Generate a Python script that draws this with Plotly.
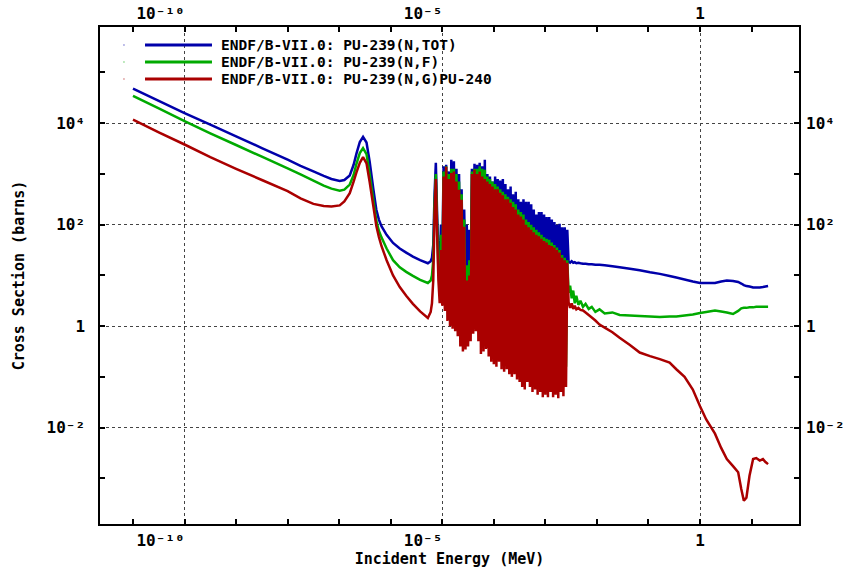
import plotly.graph_objects as go

# ---------------- data (log10 of energy in MeV, log10 of cross section in barns) ----------------
# smooth thermal / 0.3 eV resonance part
log_e_low = [-11.0, -10.5, -10.0, -9.5, -9.0, -8.5, -8.0, -7.75, -7.5, -7.3, -7.15, -6.99,
             -6.9, -6.795, -6.72, -6.665, -6.60, -6.537, -6.47, -6.41, -6.34, -6.28, -6.23,
             -6.18, -6.08, -5.955, -5.825, -5.7, -5.57, -5.43, -5.28]
tot_low = [4.68, 4.44, 4.20, 3.97, 3.74, 3.51, 3.28, 3.16, 3.05, 2.96, 2.90, 2.86,
           2.88, 2.97, 3.18, 3.40, 3.63, 3.73, 3.62, 3.25, 2.72, 2.30, 2.10,
           1.97, 1.80, 1.64, 1.53, 1.45, 1.37, 1.30, 1.24]
fis_low = [4.54, 4.29, 4.04, 3.80, 3.57, 3.34, 3.11, 2.99, 2.87, 2.77, 2.71, 2.67,
           2.69, 2.79, 2.98, 3.20, 3.41, 3.51, 3.39, 3.00, 2.50, 2.08, 1.88,
           1.75, 1.53, 1.30, 1.16, 1.07, 0.99, 0.91, 0.85]
cap_low = [4.07, 3.82, 3.58, 3.33, 3.10, 2.88, 2.66, 2.52, 2.41, 2.37, 2.36, 2.38,
           2.46, 2.62, 2.85, 3.03, 3.22, 3.33, 3.21, 2.85, 2.38, 1.98, 1.76,
           1.58, 1.30, 1.00, 0.77, 0.60, 0.44, 0.29, 0.16]

# resolved resonance region
log_e_res = [-5.225, -5.200, -5.175, -5.150, -5.125, -5.100, -5.075, -5.050, -5.025, -5.000,
             -4.975, -4.950, -4.925, -4.900, -4.875, -4.850, -4.825, -4.800, -4.775, -4.750,
             -4.725, -4.700, -4.675, -4.650, -4.625, -4.600, -4.575, -4.550, -4.525, -4.500,
             -4.475, -4.450, -4.425, -4.400, -4.375, -4.350, -4.325, -4.300, -4.275, -4.250,
             -4.225, -4.200, -4.175, -4.150, -4.125, -4.100, -4.075, -4.050, -4.025, -4.000,
             -3.975, -3.950, -3.925, -3.900, -3.875, -3.850, -3.825, -3.800, -3.775, -3.750,
             -3.725, -3.700, -3.675, -3.650, -3.625, -3.600, -3.575, -3.550, -3.525, -3.500,
             -3.475, -3.450, -3.425, -3.400, -3.375, -3.350, -3.325, -3.300, -3.275, -3.250,
             -3.225, -3.200, -3.175, -3.150, -3.125, -3.100, -3.075, -3.050, -3.025, -3.000,
             -2.975, -2.950, -2.925, -2.900, -2.875, -2.850, -2.825, -2.800, -2.775, -2.750,
             -2.725, -2.700, -2.675, -2.650, -2.625, -2.600, -2.575]
tot_res = [1.28, 1.35, 1.6, 2.6, 3.22, 2.2, 1.4, 1.2, 2.0, 1.2,
           3.15, 1.1, 3.18, 1.0, 3.05, 0.9, 3.28, 0.9, 3.25, 0.9,
           3.1, 0.8, 3.0, 0.8, 2.7, 0.8, 2.3, 0.9, 2.0, 0.9,
           1.9, 0.9, 3.1, 1.0, 3.2, 1.0, 3.18, 0.9, 3.22, 0.8,
           3.15, 0.8, 3.28, 0.8, 3.0, 0.7, 2.95, 0.7, 2.85, 0.7,
           2.95, 0.6, 2.9, 0.7, 2.87, 0.6, 2.9, 0.6, 2.8, 0.6,
           2.7, 0.6, 2.75, 0.5, 2.6, 0.5, 2.65, 0.5, 2.5, 0.5,
           2.45, 0.5, 2.5, 0.4, 2.45, 0.5, 2.45, 0.4, 2.4, 0.4,
           2.3, 0.4, 2.2, 0.4, 2.25, 0.4, 2.25, 0.4, 2.2, 0.4,
           2.15, 0.4, 2.15, 0.4, 2.1, 0.4, 2.05, 0.4, 2.0, 0.4,
           2.02, 0.4, 1.95, 0.4, 1.95, 0.5, 1.9]
fis_res = [0.9, 1.0, 1.3, 2.4, 3.0, 2.0, 1.1, 0.75, 1.8, 0.8,
           3.05, 0.7, 3.15, 0.4, 3.0, 0.3, 3.1, 0.3, 3.1, 0.2,
           3.0, 0.1, 2.85, 0.0, 2.6, -0.1, 2.1, 0.0, 1.2, 0.0,
           1.3, 0.1, 3.05, 0.2, 3.1, 0.2, 3.1, 0.1, 3.15, 0.0,
           3.1, -0.1, 3.08, 0.0, 2.95, -0.1, 2.9, -0.2, 2.85, -0.2,
           2.8, -0.3, 2.75, -0.2, 2.7, -0.3, 2.65, -0.4, 2.6, -0.3,
           2.55, -0.4, 2.5, -0.5, 2.45, -0.4, 2.4, -0.5, 2.3, -0.6,
           2.25, -0.6, 2.2, -0.7, 2.1, -0.6, 2.05, -0.7, 2.0, -0.8,
           1.95, -0.7, 1.9, -0.8, 1.85, -0.8, 1.8, -0.9, 1.75, -0.8,
           1.72, -0.9, 1.7, -0.8, 1.65, -0.9, 1.6, -0.9, 1.55, -0.9,
           1.5, -0.8, 1.4, -0.9, 1.35, -0.8, 1.3]
cap_res = [0.28, 0.45, 0.9, 2.2, 2.9, 1.8, 0.9, 0.45, 1.5, 0.4,
           2.95, 0.3, 3.14, 0.1, 2.9, 0.0, 3.02, -0.05, 3.05, -0.1,
           2.85, -0.2, 2.69, -0.4, 2.49, -0.5, 1.96, -0.46, 0.9, -0.4,
           1.0, -0.3, 3.0, -0.15, 3.08, -0.1, 3.0, -0.3, 3.05, -0.55,
           2.95, -0.5, 2.9, -0.45, 2.85, -0.6, 2.8, -0.7, 2.75, -0.75,
           2.7, -0.8, 2.7, -0.7, 2.63, -0.85, 2.58, -0.9, 2.5, -0.85,
           2.5, -0.95, 2.43, -1.0, 2.35, -0.95, 2.3, -1.05, 2.2, -1.1,
           2.16, -1.2, 2.1, -1.25, 2.0, -1.1, 1.95, -1.2, 1.9, -1.3,
           1.85, -1.25, 1.8, -1.35, 1.77, -1.3, 1.72, -1.4, 1.68, -1.35,
           1.65, -1.4, 1.6, -1.3, 1.58, -1.4, 1.55, -1.35, 1.5, -1.42,
           1.45, -1.3, 1.35, -1.38, 1.3, -1.2, 1.25]

# unresolved / fast region
log_e_high = [-2.55, -2.52, -2.49, -2.46, -2.43, -2.40, -2.36, -2.32, -2.27, -2.22, -2.16, -2.10,
              -2.03, -1.95, -1.85, -1.70, -1.56, -1.36, -1.17, -0.97, -0.78, -0.59, -0.46, -0.30,
              -0.14, 0.0, 0.12, 0.29, 0.41, 0.52, 0.64, 0.74, 0.80, 0.85, 0.90, 0.96,
              1.03, 1.09, 1.16, 1.22, 1.27, 1.32]
tot_high = [1.27, 1.25, 1.28, 1.25, 1.26, 1.24, 1.25, 1.24, 1.23, 1.23, 1.22, 1.22,
            1.21, 1.21, 1.20, 1.18, 1.16, 1.13, 1.10, 1.06, 1.03, 0.99, 0.96, 0.92,
            0.88, 0.85, 0.85, 0.85, 0.88, 0.90, 0.89, 0.87, 0.84, 0.81, 0.79, 0.78,
            0.76, 0.76, 0.76, 0.77, 0.78, 0.79]
fis_high = [0.66, 0.80, 0.55, 0.70, 0.45, 0.60, 0.42, 0.50, 0.38, 0.44, 0.34, 0.38,
            0.28, 0.33, 0.25, 0.27, 0.22, 0.21, 0.20, 0.19, 0.18, 0.19, 0.19, 0.21,
            0.23, 0.26, 0.28, 0.31, 0.29, 0.27, 0.24, 0.30, 0.35, 0.36, 0.36, 0.37,
            0.37, 0.38, 0.38, 0.38, 0.38, 0.38]
cap_high = [0.47, 0.36, 0.45, 0.34, 0.40, 0.33, 0.36, 0.32, 0.31, 0.27, 0.22, 0.17,
            0.11, 0.03, -0.03, -0.12, -0.23, -0.37, -0.52, -0.59, -0.65, -0.72, -0.85, -1.00,
            -1.25, -1.58, -1.84, -2.12, -2.40, -2.62, -2.76, -2.88, -3.21, -3.44, -3.38, -2.95,
            -2.62, -2.60, -2.65, -2.62, -2.68, -2.72]

series_names = ["ENDF/B-VII.0: PU-239(N,TOT)",
                "ENDF/B-VII.0: PU-239(N,F)",
                "ENDF/B-VII.0: PU-239(N,G)PU-240"]
series_colors = ["#0000AA", "#00AA00", "#AA0000"]

NB = "\u00a0"
x_major = [1e-10, 1e-5, 1]
x_major_text = ["10⁻¹⁰" + NB * 5, "10⁻⁵" + NB * 4, "1"]
x_minor = [1e-11, 1e-9, 1e-8, 1e-7, 1e-6, 1e-4, 1e-3, 1e-2, 1e-1, 10]
y_major = [1e-2, 1, 1e2, 1e4]
y_major_text = ["10⁻²", "1", "10²", "10⁴"]
y_minor = [1e-3, 1e-1, 10, 1e3, 1e5]

# ---------------- figure ----------------
def lin(vals):
    return [10 ** v for v in vals]

energy = lin(log_e_low + log_e_res + log_e_high)
series_vals = [tot_low + tot_res + tot_high,
               fis_low + fis_res + fis_high,
               cap_low + cap_res + cap_high]

fig = go.Figure()
for name, col, vals in zip(series_names, series_colors, series_vals):
    fig.add_trace(go.Scatter(x=energy, y=lin(vals), mode="lines", name=name,
                             line=dict(color=col, width=2.5, simplify=False),
                             showlegend=False))
# helper trace so that top / right axes are drawn
fig.add_trace(go.Scatter(x=[1e-3], y=[1], xaxis="x2", yaxis="y2", mode="markers",
                         marker=dict(opacity=0), showlegend=False, hoverinfo="skip"))

tick_font = dict(family="DejaVu Sans Mono", size=16, color="black", weight="bold")
title_font = dict(family="DejaVu Sans Mono", size=15, color="black", weight="bold")
xr = [-11.64, 1.92]
yr = [-3.90, 5.896]

common_x = dict(type="log", range=xr, tickvals=x_major, ticktext=x_major_text,
                tickfont=tick_font, zeroline=False, automargin=False)
common_y = dict(type="log", range=yr, tickvals=y_major, ticktext=y_major_text,
                tickfont=tick_font, zeroline=False, automargin=False)

fig.update_layout(
    width=845, height=569,
    margin=dict(l=100, r=46, t=27, b=45),
    paper_bgcolor="white", plot_bgcolor="white",
    xaxis=dict(**common_x, ticks="inside", ticklen=5, tickwidth=1.5, tickcolor="black",
               showline=True, linecolor="black", linewidth=1.5, mirror="ticks",
               showgrid=True, gridcolor="#444", griddash="dot", gridwidth=1,
               ticklabelstandoff=1,
               minor=dict(tickvals=x_minor, ticks="inside", ticklen=5, tickwidth=1.5,
                          tickcolor="black", showgrid=False),
               title=dict(text="Incident Energy (MeV)", standoff=3, font=title_font)),
    xaxis2=dict(**common_x, overlaying="x", side="top", anchor="y", ticks="",
                showline=False, showgrid=False, ticklabelstandoff=4),
    yaxis=dict(**common_y, ticks="inside", ticklen=5, tickwidth=1.5, tickcolor="black",
               showline=True, linecolor="black", linewidth=1.5, mirror="ticks",
               showgrid=True, gridcolor="#444", griddash="dot", gridwidth=1,
               ticklabelstandoff=10,
               minor=dict(tickvals=y_minor, ticks="inside", ticklen=5, tickwidth=1.5,
                          tickcolor="black", showgrid=False),
               title=dict(text="Cross Section (barns)", standoff=18, font=title_font)),
    yaxis2=dict(**common_y, overlaying="y", side="right", anchor="x", ticks="",
                showline=False, showgrid=False, ticklabelstandoff=6),
)

# manual legend (long line samples, as in the reference)
leg_y = [0.9638, 0.9296, 0.8954]
for name, col, yy in zip(series_names, series_colors, leg_y):
    fig.add_shape(type="rect", xref="paper", yref="paper", x0=0.0336, x1=0.0350,
                  y0=yy - 0.001, y1=yy + 0.001, line=dict(width=0), fillcolor=col)
    fig.add_shape(type="line", xref="paper", yref="paper", x0=0.0644, x1=0.1602,
                  y0=yy, y1=yy, line=dict(color=col, width=3))
    fig.add_annotation(xref="paper", yref="paper", x=0.1717, y=yy, text=name,
                       showarrow=False, xanchor="left", yanchor="middle", borderpad=0,
                       font=dict(family="DejaVu Sans Mono", size=14.5, color="black",
                                 weight="bold"))

fig.write_html("out.html")
